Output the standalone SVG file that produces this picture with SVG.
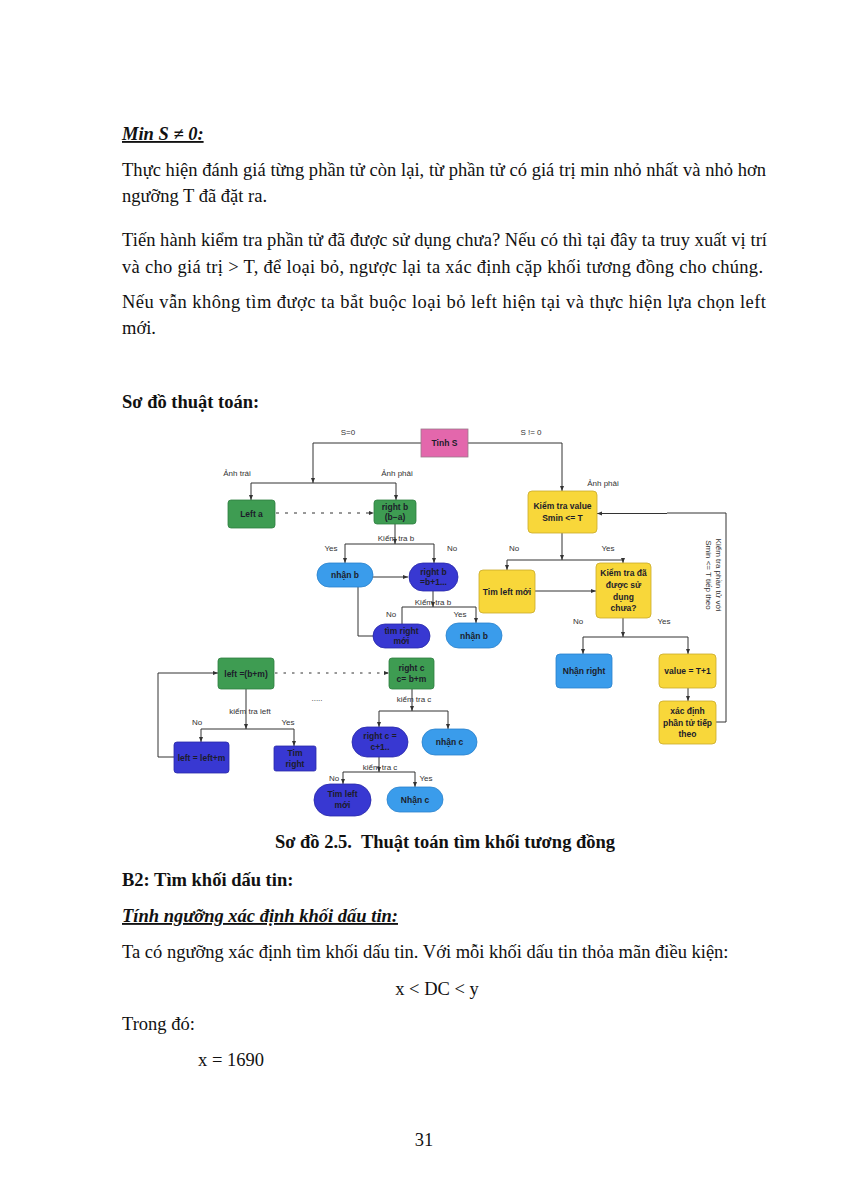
<svg xmlns="http://www.w3.org/2000/svg" width="848" height="1200" viewBox="0 0 848 1200">
<style>
.body{font-family:"Liberation Serif","Times New Roman",serif;font-size:18.5px;fill:#111}
.b{font-weight:bold}
.ln{stroke:#333;stroke-width:1;fill:none}
.lbl{font-family:"Liberation Sans",Arial,sans-serif;font-size:8px;fill:#333}
.nt{font-family:"Liberation Sans",Arial,sans-serif;font-size:8.5px;font-weight:bold;fill:#1c1c2a;text-anchor:middle}
.pink{fill:#E367AC;stroke:#9A7A8A;stroke-width:0.8}
.green{fill:#3E9C52;stroke:#2F7F40;stroke-width:0.8}
.yellow{fill:#F8D73A;stroke:#C9A92A;stroke-width:0.8}
.lblue{fill:#3A9CEB;stroke:#2A82CC;stroke-width:0.8}
.dblue{fill:#3838D2;stroke:#2828A8;stroke-width:0.8}
</style>
<defs>
<marker id="ah" viewBox="0 0 10 10" refX="10" refY="5" markerWidth="5" markerHeight="5" markerUnits="userSpaceOnUse" orient="auto"><path d="M0,1 L10,5 L0,9 z" fill="#333"/></marker>
</defs>
<rect width="848" height="1200" fill="#fff"/>

<!-- body text -->
<g id="text-top" class="body">
<text x="122" y="140" class="b" font-style="italic" text-decoration="underline">Min S ≠ 0:</text>
<text x="122" y="176" textLength="644" lengthAdjust="spacing">Thực hiện đánh giá từng phần tử còn lại, từ phần tử có giá trị min nhỏ nhất và nhỏ hơn</text>
<text x="122" y="202">ngưỡng T đã đặt ra.</text>
<text x="122" y="246" textLength="645" lengthAdjust="spacing">Tiến hành kiểm tra phần tử đã được sử dụng chưa? Nếu có thì tại đây ta truy xuất vị trí</text>
<text x="122" y="273" textLength="641" lengthAdjust="spacing">và cho giá trị &gt; T, để loại bỏ, ngược lại ta xác định cặp khối tương đồng cho chúng.</text>
<text x="122" y="308" textLength="644" lengthAdjust="spacing">Nếu vẫn không tìm được ta bắt buộc loại bỏ left hiện tại và thực hiện lựa chọn left</text>
<text x="122" y="334">mới.</text>
<text x="122" y="408" class="b">Sơ đồ thuật toán:</text>
</g>

<!-- connectors -->
<g id="connectors">
<path class="ln" d="M421,443 H313 V483" marker-end="url(#ah)"/>
<path class="ln" d="M251,483 H396"/>
<path class="ln" d="M251,483 V500" marker-end="url(#ah)"/>
<path class="ln" d="M396,483 V500" marker-end="url(#ah)"/>
<path class="ln" d="M276,513 H374" stroke-dasharray="3,6" marker-end="url(#ah)"/>
<path class="ln" d="M395,524 V544" marker-end="url(#ah)"/>
<path class="ln" d="M345,544 H434"/>
<path class="ln" d="M345,544 V563" marker-end="url(#ah)"/>
<path class="ln" d="M434,544 V563" marker-end="url(#ah)"/>
<path class="ln" d="M433,591 V607" marker-end="url(#ah)"/>
<path class="ln" d="M402,607 H476"/>
<path class="ln" d="M402,607 V624"/>
<path class="ln" d="M476,607 V623" marker-end="url(#ah)"/>
<path class="ln" d="M373,636 H358 V577 H408" marker-end="url(#ah)"/>
<path class="ln" d="M468,443 H562 V491" marker-end="url(#ah)"/>
<path class="ln" d="M562,533 V560" marker-end="url(#ah)"/>
<path class="ln" d="M507,560 H623"/>
<path class="ln" d="M507,560 V570" marker-end="url(#ah)"/>
<path class="ln" d="M623,560 V563" marker-end="url(#ah)"/>
<path class="ln" d="M535,591 H596" marker-end="url(#ah)"/>
<path class="ln" d="M623,618 V637" marker-end="url(#ah)"/>
<path class="ln" d="M583,637 H688"/>
<path class="ln" d="M583,637 V654" marker-end="url(#ah)"/>
<path class="ln" d="M688,637 V654" marker-end="url(#ah)"/>
<path class="ln" d="M688,688 V701" marker-end="url(#ah)"/>
<path class="ln" d="M716,722 H726 V513 H667" />
<path class="ln" d="M667,513.5 H597" stroke-width="1.6" marker-end="url(#ah)"/>
<path class="ln" d="M275,673 H389" stroke-dasharray="2.5,6" marker-end="url(#ah)"/>
<path class="ln" d="M246,689 V729" marker-end="url(#ah)"/>
<path class="ln" d="M201,729 H294"/>
<path class="ln" d="M201,729 V742" marker-end="url(#ah)"/>
<path class="ln" d="M294,729 V746" marker-end="url(#ah)"/>
<path class="ln" d="M174,757 H158 V673 H218" marker-end="url(#ah)"/>
<path class="ln" d="M412,689 V711" marker-end="url(#ah)"/>
<path class="ln" d="M379,711 H448"/>
<path class="ln" d="M379,711 V727" marker-end="url(#ah)"/>
<path class="ln" d="M448,711 V729" marker-end="url(#ah)"/>
<path class="ln" d="M379,757 V772" marker-end="url(#ah)"/>
<path class="ln" d="M343,772 H415"/>
<path class="ln" d="M343,772 V784" marker-end="url(#ah)"/>
<path class="ln" d="M415,772 V787" marker-end="url(#ah)"/>
</g>

<!-- connector labels -->
<g id="labels" class="lbl">
<text x="348" y="435" text-anchor="middle">S=0</text>
<text x="531" y="435" text-anchor="middle">S != 0</text>
<text x="237" y="476" text-anchor="middle">Ảnh trái</text>
<text x="397" y="476" text-anchor="middle">Ảnh phải</text>
<text x="603" y="486" text-anchor="middle">Ảnh phải</text>
<text x="396" y="540.5" text-anchor="middle">Kiểm tra b</text>
<text x="331" y="550.5" text-anchor="middle">Yes</text>
<text x="452" y="550.5" text-anchor="middle">No</text>
<text x="433" y="605" text-anchor="middle">Kiểm tra b</text>
<text x="391" y="617" text-anchor="middle">No</text>
<text x="460" y="617" text-anchor="middle">Yes</text>
<text x="514" y="550.5" text-anchor="middle">No</text>
<text x="608" y="550.5" text-anchor="middle">Yes</text>
<text x="578" y="623.5" text-anchor="middle">No</text>
<text x="664" y="623.5" text-anchor="middle">Yes</text>
<text x="317" y="701" text-anchor="middle">.....</text>
<text x="250" y="713.5" text-anchor="middle">kiểm tra left</text>
<text x="197" y="725" text-anchor="middle">No</text>
<text x="288" y="725" text-anchor="middle">Yes</text>
<text x="414" y="702" text-anchor="middle">kiểm tra c</text>
<text x="380" y="769.5" text-anchor="middle">kiểm tra c</text>
<text x="334" y="781" text-anchor="middle">No</text>
<text x="426" y="781" text-anchor="middle">Yes</text>
<g transform="translate(716,575) rotate(90)">
<text x="0" y="0" text-anchor="middle">Kiểm tra phần tử với</text>
<text x="0" y="10" text-anchor="middle">Smin &lt;= T tiếp theo</text>
</g>
</g>

<!-- nodes -->
<g id="n-tinhs"><rect class="pink" x="421" y="429" width="47" height="28"/><text class="nt" x="444.5" y="446">Tinh S</text></g>
<g id="n-lefta"><rect class="green" x="228" y="500" width="47" height="28" rx="3"/><text class="nt" x="251.5" y="517">Left a</text></g>
<g id="n-rightb"><rect class="green" x="374" y="500" width="42" height="24" rx="3"/><text class="nt" x="395" y="509.5">right b</text><text class="nt" x="395" y="520">(b−a)</text></g>
<g id="n-nhanb1"><rect class="lblue" x="317" y="563" width="56" height="24" rx="12"/><text class="nt" x="345" y="578">nhận b</text></g>
<g id="n-rightb1"><rect class="dblue" x="409" y="563" width="49" height="28" rx="14"/><text class="nt" x="433.5" y="574.5">right b</text><text class="nt" x="433.5" y="585">=b+1...</text></g>
<g id="n-timright"><rect class="dblue" x="373" y="624" width="57" height="24" rx="12"/><text class="nt" x="401.5" y="633.5">tìm right</text><text class="nt" x="401.5" y="644">mới</text></g>
<g id="n-nhanb2"><rect class="lblue" x="446" y="623" width="56" height="25" rx="12.5"/><text class="nt" x="474" y="638.5">nhận b</text></g>
<g id="n-kiemtravalue"><rect class="yellow" x="528" y="491" width="69" height="42" rx="4"/><text class="nt" x="562.5" y="509">Kiểm tra value</text><text class="nt" x="562.5" y="520.5">Smin &lt;= T</text></g>
<g id="n-timleft"><rect class="yellow" x="479" y="570" width="56" height="43" rx="4"/><text class="nt" x="507" y="594.5">Tim left mới</text></g>
<g id="n-kiemtrada"><rect class="yellow" x="596" y="563" width="55" height="55" rx="4"/><text class="nt" x="623.5" y="576">Kiểm tra đã</text><text class="nt" x="623.5" y="588">được sử</text><text class="nt" x="623.5" y="599.5">dụng</text><text class="nt" x="623.5" y="611">chưa?</text></g>
<g id="n-nhanright"><rect class="lblue" x="556" y="654" width="56" height="34" rx="4"/><text class="nt" x="584" y="674">Nhận right</text></g>
<g id="n-value"><rect class="yellow" x="659" y="654" width="57" height="34" rx="4"/><text class="nt" x="687.5" y="674">value = T+1</text></g>
<g id="n-xacdinh"><rect class="yellow" x="659" y="701" width="57" height="43" rx="4"/><text class="nt" x="687.5" y="714">xác định</text><text class="nt" x="687.5" y="725.5">phần tử tiếp</text><text class="nt" x="687.5" y="736.5">theo</text></g>
<g id="n-leftbm"><rect class="green" x="218" y="658" width="56" height="31" rx="3"/><text class="nt" x="246" y="676.5">left =(b+m)</text></g>
<g id="n-rightc"><rect class="green" x="389" y="658" width="45" height="31" rx="3"/><text class="nt" x="411.5" y="670.5">right c</text><text class="nt" x="411.5" y="681.5">c= b+m</text></g>
<g id="n-leftleftm"><rect class="dblue" x="174" y="742" width="55" height="31" rx="3"/><text class="nt" x="201.5" y="760.5">left = left+m</text></g>
<g id="n-timright2"><rect class="dblue" x="274" y="746" width="42" height="25" rx="2"/><text class="nt" x="295" y="756">Tim</text><text class="nt" x="295" y="767">right</text></g>
<g id="n-rightc1"><rect class="dblue" x="352" y="727" width="56" height="30" rx="15"/><text class="nt" x="380" y="739">right c =</text><text class="nt" x="380" y="750">c+1..</text></g>
<g id="n-nhanc"><rect class="lblue" x="422" y="729" width="55" height="26" rx="13"/><text class="nt" x="449.5" y="745">nhận c</text></g>
<g id="n-timleft2"><rect class="dblue" x="314" y="784" width="57" height="32" rx="16"/><text class="nt" x="342.5" y="797">Tim left</text><text class="nt" x="342.5" y="808">mới</text></g>
<g id="n-nhanc2"><rect class="lblue" x="387" y="787" width="56" height="25" rx="12.5"/><text class="nt" x="415" y="802.5">Nhận c</text></g>

<g id="text-bottom" class="body">
<text x="445" y="848" class="b" text-anchor="middle" xml:space="preserve">Sơ đồ 2.5.  Thuật toán tìm khối tương đồng</text>
<text x="122" y="886" class="b">B2: Tìm khối dấu tin:</text>
<text x="122" y="922" class="b" font-style="italic" text-decoration="underline">Tính ngưỡng xác định khối dấu tin:</text>
<text x="122" y="958">Ta có ngưỡng xác định tìm khối dấu tin. Với mỗi khối dấu tin thỏa mãn điều kiện:</text>
<text x="437" y="995" text-anchor="middle">x &lt; DC &lt; y</text>
<text x="122" y="1030">Trong đó:</text>
<text x="198" y="1066">x = 1690</text>
<text x="424" y="1146" text-anchor="middle">31</text>
</g>
</svg>
